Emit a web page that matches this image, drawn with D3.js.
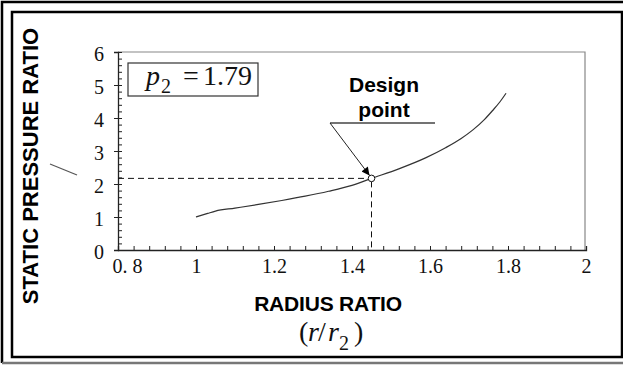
<!DOCTYPE html>
<html>
<head>
<meta charset="utf-8">
<script src="https://cdn.jsdelivr.net/npm/d3@7"></script>
<style>
  html, body { margin: 0; padding: 0; background: #fff; }
  svg { display: block; }
</style>
</head>
<body>
<svg id="chart" width="623" height="367"></svg>
<script>
// Static pressure ratio along the radius ratio r/r2
const radiusRatio   = [1.00, 1.03, 1.05, 1.10, 1.16, 1.22, 1.28, 1.34, 1.40, 1.45, 1.52, 1.59, 1.64, 1.68, 1.71, 1.74, 1.76, 1.78, 1.795];
const pressureRatio = [1.00, 1.11, 1.18, 1.27, 1.38, 1.50, 1.63, 1.78, 1.96, 2.17, 2.46, 2.80, 3.10, 3.38, 3.64, 3.96, 4.22, 4.50, 4.75];

// Design point on the curve
const designPoint = { r: 1.45, p: 2.17 };

// Axis ticks and labels
const xTicks = [0.8, 1.0, 1.2, 1.4, 1.6, 1.8, 2.0];
const xTickLabels = ["0. 8", "1", "1.2", "1.4", "1.6", "1.8", "2"];
const yTicks = [0, 1, 2, 3, 4, 5, 6];
const yTickLabels = ["0", "1", "2", "3", "4", "5", "6"];

const svg = d3.select("#chart");
const serif = "'Liberation Serif', 'Times New Roman', serif";
const sans = "'Liberation Sans', Arial, sans-serif";

// Double frame around the figure
svg.append("path")
  .attr("d", "M2,363 V2 H640")
  .attr("fill", "none").attr("stroke", "#000").attr("stroke-width", 2.5);
svg.append("line")
  .attr("x1", 2).attr("x2", 640).attr("y1", 363).attr("y2", 363)
  .attr("stroke", "#777").attr("stroke-width", 2.5);
svg.append("rect")
  .attr("x", 12).attr("y", 12).attr("width", 610).attr("height", 345)
  .attr("fill", "none").attr("stroke", "#000").attr("stroke-width", 2.5);

const plot = { left: 118, right: 585, top: 52, bottom: 250 };
const x = d3.scaleLinear().domain([0.8, 2.0]).range([plot.left, plot.right + 1]);
const y = d3.scaleLinear().domain([0, 6]).range([plot.bottom, plot.top]);

// Top and right edges of the plot box
svg.append("path")
  .attr("d", `M${plot.left},${plot.top} H${plot.right} V${plot.bottom}`)
  .attr("fill", "none").attr("stroke", "#888").attr("stroke-width", 1.2);

// X axis: minor ticks every 0.04, labelled major ticks
const xMinor = d3.range(0, 31).map(i => 0.8 + i * 0.04);
svg.append("g")
  .attr("transform", `translate(0,${plot.bottom})`)
  .call(d3.axisBottom(x).tickValues(xMinor).tickSize(-4).tickFormat(""))
  .call(g => g.select(".domain").remove())
  .call(g => g.selectAll("line").attr("stroke", "#222"));

const xAxis = svg.append("g")
  .attr("transform", `translate(0,${plot.bottom})`)
  .call(d3.axisBottom(x).tickValues(xTicks).tickSize(-4).tickPadding(9)
    .tickFormat((d, i) => xTickLabels[i]));
xAxis.select(".domain").attr("stroke", "#222").attr("stroke-width", 1.3);
xAxis.selectAll("line").attr("stroke", "#222");
xAxis.selectAll("text")
  .attr("font-family", serif).attr("font-size", 20).attr("fill", "#111");
xAxis.selectAll("text").filter((d, i) => i === 0)
  .attr("text-anchor", "start").attr("dx", -6);

// Y axis: minor ticks every 0.2 inside, major ticks crossing the axis
const yMinor = d3.range(0, 31).map(i => i * 0.2);
svg.append("g")
  .attr("transform", `translate(${plot.left},0)`)
  .call(d3.axisLeft(y).tickValues(yMinor).tickSize(-4).tickFormat(""))
  .call(g => g.select(".domain").remove())
  .call(g => g.selectAll("line").attr("stroke", "#222"));

const yAxis = svg.append("g")
  .attr("transform", `translate(${plot.left},0)`)
  .call(d3.axisLeft(y).tickValues(yTicks).tickSize(4).tickPadding(10)
    .tickFormat((d, i) => yTickLabels[i]));
yAxis.select(".domain").attr("stroke", "#222").attr("stroke-width", 1.3);
yAxis.selectAll("line").attr("stroke", "#222");
yAxis.selectAll("text")
  .attr("font-family", serif).attr("font-size", 20).attr("fill", "#111")
  .attr("dy", "0.42em");

// Dashed guides to the design point
const dp = { cx: x(designPoint.r), cy: y(designPoint.p) };
svg.append("line")
  .attr("x1", plot.left).attr("x2", dp.cx - 3).attr("y1", dp.cy).attr("y2", dp.cy)
  .attr("stroke", "#111").attr("stroke-width", 1).attr("stroke-dasharray", "6,4");
svg.append("line")
  .attr("x1", dp.cx).attr("x2", dp.cx).attr("y1", dp.cy + 3).attr("y2", plot.bottom)
  .attr("stroke", "#111").attr("stroke-width", 1).attr("stroke-dasharray", "6,4");

// Pressure ratio curve
const line = d3.line()
  .x((d, i) => x(radiusRatio[i]))
  .y(d => y(d))
  .curve(d3.curveMonotoneX);
svg.append("path")
  .datum(pressureRatio)
  .attr("d", line)
  .attr("fill", "none").attr("stroke", "#333").attr("stroke-width", 1.2);

// Design point marker
svg.append("circle")
  .attr("cx", dp.cx).attr("cy", dp.cy).attr("r", 3.3)
  .attr("fill", "#fff").attr("stroke", "#111").attr("stroke-width", 1);

// Leader and arrow to the design point
svg.append("defs").append("marker")
  .attr("id", "arrow").attr("viewBox", "0 0 10 10")
  .attr("refX", 10).attr("refY", 5)
  .attr("markerWidth", 12).attr("markerHeight", 8)
  .attr("markerUnits", "userSpaceOnUse")
  .attr("orient", "auto")
  .append("path").attr("d", "M0,0 L10,5 L0,10 Z").attr("fill", "#000");
svg.append("line")
  .attr("x1", 330).attr("x2", 435).attr("y1", 123).attr("y2", 123)
  .attr("stroke", "#444").attr("stroke-width", 1.3);
svg.append("line")
  .attr("x1", 330).attr("y1", 123).attr("x2", dp.cx - 2).attr("y2", dp.cy - 3)
  .attr("stroke", "#222").attr("stroke-width", 1)
  .attr("marker-end", "url(#arrow)");

svg.append("text")
  .attr("x", 384).attr("y", 92)
  .attr("text-anchor", "middle")
  .attr("font-family", sans).attr("font-weight", "bold").attr("font-size", 21)
  .attr("fill", "#000")
  .text("Design");
svg.append("text")
  .attr("x", 384).attr("y", 117)
  .attr("text-anchor", "middle")
  .attr("font-family", sans).attr("font-weight", "bold").attr("font-size", 21)
  .attr("fill", "#000")
  .text("point");

// Parameter box: p2 = 1.79
svg.append("rect")
  .attr("x", 128).attr("y", 63).attr("width", 130).attr("height", 33)
  .attr("fill", "#fff").attr("stroke", "#333").attr("stroke-width", 1.2);
const p2 = svg.append("text")
  .attr("font-family", serif).attr("fill", "#111");
p2.append("tspan").attr("x", 146).attr("y", 85)
  .attr("font-style", "italic").attr("font-size", 28).text("p");
p2.append("tspan").attr("x", 161).attr("y", 93)
  .attr("font-size", 20).text("2");
p2.append("tspan").attr("x", 183).attr("y", 85)
  .attr("font-size", 28).text("=");
p2.append("tspan").attr("x", 203).attr("y", 85)
  .attr("font-size", 28).text("1.79");

// Axis titles
svg.append("text")
  .attr("x", 328).attr("y", 311)
  .attr("text-anchor", "middle")
  .attr("font-family", sans).attr("font-weight", "bold").attr("font-size", 21)
  .attr("letter-spacing", -0.2)
  .attr("fill", "#000")
  .text("RADIUS RATIO");

const rr = svg.append("text")
  .attr("font-family", serif).attr("fill", "#111").attr("font-size", 28);
rr.append("tspan").attr("x", 299).attr("y", 341).text("(");
rr.append("tspan").attr("x", 308).attr("y", 341).attr("font-style", "italic").text("r");
rr.append("tspan").attr("x", 318).attr("y", 341).text("/");
rr.append("tspan").attr("x", 328).attr("y", 341).attr("font-style", "italic").text("r");
rr.append("tspan").attr("x", 339).attr("y", 350).attr("font-size", 20).text("2");
rr.append("tspan").attr("x", 354).attr("y", 341).text(")");

svg.append("text")
  .attr("transform", "translate(38,166) rotate(-90)")
  .attr("text-anchor", "middle")
  .attr("font-family", sans).attr("font-weight", "bold").attr("font-size", 22)
  .attr("letter-spacing", 0)
  .attr("fill", "#000")
  .text("STATIC PRESSURE RATIO");

// Short stray tick beside the y-axis title
svg.append("line")
  .attr("x1", 50).attr("y1", 164).attr("x2", 77).attr("y2", 175)
  .attr("stroke", "#555").attr("stroke-width", 1.2);
</script>
</body>
</html>
